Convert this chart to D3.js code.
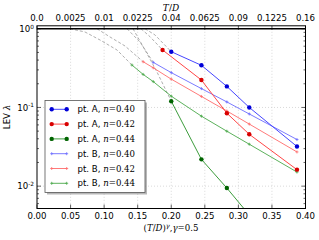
<!DOCTYPE html>
<html><head><meta charset="utf-8">
<script src="https://cdn.jsdelivr.net/npm/d3@7"></script>
<style>body{margin:0;background:#fff}svg{display:block}</style>
</head><body><svg id="c" width="319" height="240"></svg>
<script>
// ---- data (T/D values and LEV lambda) ----
const xA_blue = [0.04, 0.06, 0.08, 0.10, 0.15];
const yA_blue = [0.511, 0.343, 0.185, 0.100, 0.0319];
const xA_red = [0.035, 0.06, 0.08, 0.10, 0.15];
const yA_red = [0.537, 0.223, 0.0845, 0.0456, 0.0162];
const xA_green = [0.04, 0.06, 0.08, 0.10];
const yA_green = [0.120, 0.0219, 0.00946, 0.0043];
const xB_blue = [0.03, 0.04, 0.06, 0.08, 0.10, 0.15];
const yB_blue = [0.374, 0.277, 0.1735, 0.1175, 0.0826, 0.0391];
const xB_red = [0.025, 0.03, 0.04, 0.06, 0.08, 0.10, 0.15];
const yB_red = [0.381, 0.319, 0.229, 0.138, 0.0902, 0.0615, 0.0272];
const xB_green = [0.02, 0.025, 0.03, 0.04, 0.06, 0.08, 0.10, 0.15];
const yB_green = [0.346, 0.263, 0.213, 0.139, 0.0775, 0.0499, 0.0341, 0.0151];
// gray dashed extrapolations
const dashX = [
  [0.00242, 0.00511, 0.00881, 0.01421, 0.02],
  [0.00799, 0.01183, 0.01719, 0.025],
  [0.01798, 0.02355, 0.03],
  [0.02045, 0.02589, 0.03196, 0.04],
  [0.0240, 0.02834, 0.035],
  [0.02589, 0.0309, 0.04]
];
const dashY = [
  [1.0, 0.91, 0.72, 0.537, 0.346],
  [1.0, 0.786, 0.604, 0.381],
  [1.0, 0.679, 0.374],
  [1.0, 0.537, 0.282, 0.120],
  [1.0, 0.793, 0.537],
  [1.0, 0.834, 0.511]
];
const bottomTicks = [0.00, 0.05, 0.10, 0.15, 0.20, 0.25, 0.30, 0.35, 0.40];
const topTickLabels = ["0.0", "0.0025", "0.01", "0.0225", "0.04", "0.0625", "0.09", "0.1225", "0.16"];
const yTicks = [1, 0.1, 0.01];
const yTickExp = ["0", "-1", "-2"];
const legendLabels = ["pt. A, ", "pt. A, ", "pt. A, ", "pt. B, ", "pt. B, ", "pt. B, "];
const legendN = ["0.40", "0.42", "0.44", "0.40", "0.42", "0.44"];
const gamma = 0.5;

// ---- layout ----
const L = 37, R = 305.5, T = 25.8, B = 208.5;
const svg = d3.select("#c");
const x = d3.scaleLinear().domain([0, 0.4]).range([L, R]);
const y = d3.scaleLog().domain([0.0052, 1.09]).range([B, T]);
const fx = v => x(Math.pow(v, gamma));
const sans = "DejaVu Sans";
const serif = "DejaVu Serif";

svg.append("defs").append("clipPath").attr("id", "clip")
  .append("rect").attr("x", L).attr("y", T).attr("width", R - L).attr("height", B - T);

// grid
const grid = svg.append("g").attr("stroke", "#cfcfcf").attr("stroke-width", 0.8).attr("stroke-dasharray", "1,2");
bottomTicks.slice(1, -1).forEach(t => grid.append("line").attr("x1", x(t)).attr("x2", x(t)).attr("y1", T).attr("y2", B));
yTicks.slice(1).forEach(t => grid.append("line").attr("x1", L).attr("x2", R).attr("y1", y(t)).attr("y2", y(t)));

const plot = svg.append("g").attr("clip-path", "url(#clip)");
const line = d3.line().x(d => fx(d[0])).y(d => y(d[1]));

// dashed
dashX.forEach((xs, i) => {
  plot.append("path").attr("d", line(xs.map((v, j) => [v, dashY[i][j]])))
    .attr("fill", "none").attr("stroke", "#999").attr("stroke-width", 0.8).attr("stroke-dasharray", "3,2");
});

// horizontal line at 1
svg.append("line").attr("x1", L).attr("x2", R).attr("y1", y(1)).attr("y2", y(1)).attr("stroke", "#000").attr("stroke-width", 1.5);

const seriesB = [
  {xs: xB_blue, ys: yB_blue, c: "#6b6bff"},
  {xs: xB_red, ys: yB_red, c: "#ff6b6b"},
  {xs: xB_green, ys: yB_green, c: "#4aa84a"}
];
const seriesA = [
  {xs: xA_blue, ys: yA_blue, c: "#4646ff", m: "#0000d8"},
  {xs: xA_red, ys: yA_red, c: "#ff4646", m: "#d80000"},
  {xs: xA_green, ys: yA_green, c: "#3c9c3c", m: "#006400"}
];
function plus(g, cx, cy, c) {
  g.append("path").attr("d", `M${cx-1.5},${cy}H${cx+1.5}M${cx},${cy-1.5}V${cy+1.5}`).attr("stroke", c).attr("stroke-width", 0.8);
}
seriesB.forEach(s => {
  const pts = s.xs.map((v, j) => [v, s.ys[j]]);
  plot.append("path").attr("d", line(pts)).attr("fill", "none").attr("stroke", s.c).attr("stroke-width", 0.9);
  pts.forEach(p => plus(plot, fx(p[0]), y(p[1]), s.c));
});
seriesA.forEach(s => {
  const pts = s.xs.map((v, j) => [v, s.ys[j]]);
  plot.append("path").attr("d", line(pts)).attr("fill", "none").attr("stroke", s.c).attr("stroke-width", 1);
  pts.forEach(p => plot.append("circle").attr("cx", fx(p[0])).attr("cy", y(p[1])).attr("r", 2.2).attr("fill", s.m));
});

// frame
svg.append("rect").attr("x", L).attr("y", T).attr("width", R - L).attr("height", B - T)
  .attr("fill", "none").attr("stroke", "#000").attr("stroke-width", 1);

// ticks
const tk = svg.append("g").attr("stroke", "#000").attr("stroke-width", 0.6);
bottomTicks.forEach(t => {
  tk.append("line").attr("x1", x(t)).attr("x2", x(t)).attr("y1", B).attr("y2", B - 4);
  tk.append("line").attr("x1", x(t)).attr("x2", x(t)).attr("y1", T).attr("y2", T + 4);
});
[1, 0.1, 0.01].forEach(t => {
  tk.append("line").attr("x1", L).attr("x2", L + 4).attr("y1", y(t)).attr("y2", y(t));
  tk.append("line").attr("x1", R).attr("x2", R - 4).attr("y1", y(t)).attr("y2", y(t));
});
[0.001, 0.01, 0.1].forEach(dec => {
  for (let k = 2; k <= 9; k++) {
    const v = dec * k;
    if (v < 0.0052 || v > 1.09) continue;
    tk.append("line").attr("x1", L).attr("x2", L + 2).attr("y1", y(v)).attr("y2", y(v));
    tk.append("line").attr("x1", R).attr("x2", R - 2).attr("y1", y(v)).attr("y2", y(v));
  }
});

// tick labels
const fs = 8.6;
bottomTicks.forEach(t => svg.append("text").attr("x", x(t)).attr("y", 219).attr("text-anchor", "middle")
  .attr("font-family", sans).attr("font-size", fs).text(t.toFixed(2)));
bottomTicks.forEach((t, i) => svg.append("text").attr("x", x(t)).attr("y", 20.8).attr("text-anchor", "middle")
  .attr("font-family", sans).attr("font-size", fs).text(topTickLabels[i]));
yTicks.forEach((t, i) => {
  const tx = svg.append("text").attr("x", 34).attr("y", y(t) + 3.2).attr("text-anchor", "end")
    .attr("font-family", sans).attr("font-size", fs);
  tx.append("tspan").text("10");
  tx.append("tspan").attr("dy", -3.4).attr("font-size", 5.8).text(yTickExp[i]);
});

// axis labels
const xl = svg.append("text").attr("x", 171).attr("y", 231).attr("text-anchor", "middle")
  .attr("font-family", serif).attr("font-size", 8.6);
xl.append("tspan").text("(");
xl.append("tspan").attr("font-style", "italic").text("T");
xl.append("tspan").text("/");
xl.append("tspan").attr("font-style", "italic").text("D");
xl.append("tspan").text(")");
xl.append("tspan").attr("dy", -3.5).attr("font-size", 6.5).attr("font-style", "italic").text("γ");
xl.append("tspan").attr("dy", 3.5).text(",");
xl.append("tspan").attr("font-style", "italic").text("γ");
xl.append("tspan").text("=0.5");

const tl = svg.append("text").attr("x", 171).attr("y", 11).attr("text-anchor", "middle")
  .attr("font-family", serif).attr("font-size", 9);
tl.append("tspan").attr("font-style", "italic").text("T");
tl.append("tspan").text("/");
tl.append("tspan").attr("font-style", "italic").text("D");

const yl = svg.append("text").attr("transform", "translate(10,117) rotate(-90)").attr("text-anchor", "middle")
  .attr("font-family", sans).attr("font-size", 8.6);
yl.append("tspan").text("LEV ");
yl.append("tspan").attr("font-family", serif).attr("font-style", "italic").text("λ");

// legend
const lg = svg.append("g");
const lx = 45, ly = 100.5, lw = 100, lh = 92;
lg.append("rect").attr("x", lx + 2).attr("y", ly + 2).attr("width", lw).attr("height", lh).attr("fill", "#888").attr("opacity", 0.6);
lg.append("rect").attr("x", lx).attr("y", ly).attr("width", lw).attr("height", lh).attr("fill", "#fff").attr("stroke", "#555").attr("stroke-width", 0.8);
const legCols = [
  {c: "#4646ff", m: "#0000d8", a: true}, {c: "#ff4646", m: "#d80000", a: true}, {c: "#3c9c3c", m: "#006400", a: true},
  {c: "#6b6bff", a: false}, {c: "#ff6b6b", a: false}, {c: "#4aa84a", a: false}
];
legCols.forEach((s, i) => {
  const yy = 109.3 + i * 14.8;
  lg.append("line").attr("x1", 51.7).attr("x2", 66.7).attr("y1", yy).attr("y2", yy).attr("stroke", s.c).attr("stroke-width", s.a ? 1 : 0.9);
  [51.7, 66.7].forEach(px => {
    if (s.a) lg.append("circle").attr("cx", px).attr("cy", yy).attr("r", 2.2).attr("fill", s.m);
    else plus(lg, px, yy, s.c);
  });
  const t = lg.append("text").attr("x", 77.5).attr("y", yy + 3).attr("font-family", sans).attr("font-size", fs);
  t.append("tspan").text(legendLabels[i]);
  t.append("tspan").attr("font-family", serif).attr("font-style", "italic").text("n");
  t.append("tspan").attr("font-family", serif).text("=" + legendN[i]);
});
</script></body></html>
